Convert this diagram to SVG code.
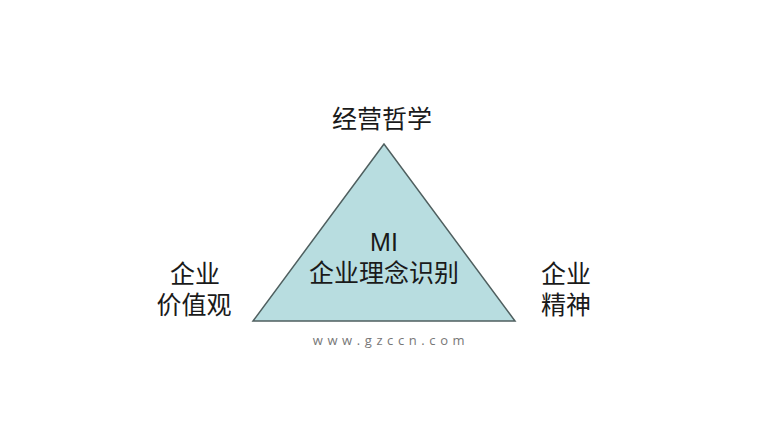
<svg xmlns="http://www.w3.org/2000/svg" width="772" height="434" viewBox="0 0 772 434">
<style>
.t{font-family:"Liberation Sans","Noto Sans CJK SC",sans-serif;font-size:25px;fill:#1a1a1a;text-anchor:middle}
.w{font-family:"Open Sans","Liberation Sans",sans-serif;font-size:13px;fill:#777;text-anchor:middle;letter-spacing:4.6px}
</style>
<rect width="772" height="434" fill="#ffffff"/>
<g id="triangle">
<polygon points="384,144 253,321 515,321" fill="#b8dde0" stroke="#4f5f5f" stroke-width="1.5"/>
<text class="t" x="384" y="251">MI</text>
<text class="t" x="384" y="282">企业理念识别</text>
</g>
<g id="top"><text class="t" x="382" y="128">经营哲学</text></g>
<g id="left"><text class="t" x="195" y="283">企业</text><text class="t" x="194" y="314">价值观</text></g>
<g id="right"><text class="t" x="566" y="283">企业</text><text class="t" x="566" y="314">精神</text></g>
<g id="connectors"></g>
<text class="w" x="391" y="345">www.gzccn.com</text>
</svg>
